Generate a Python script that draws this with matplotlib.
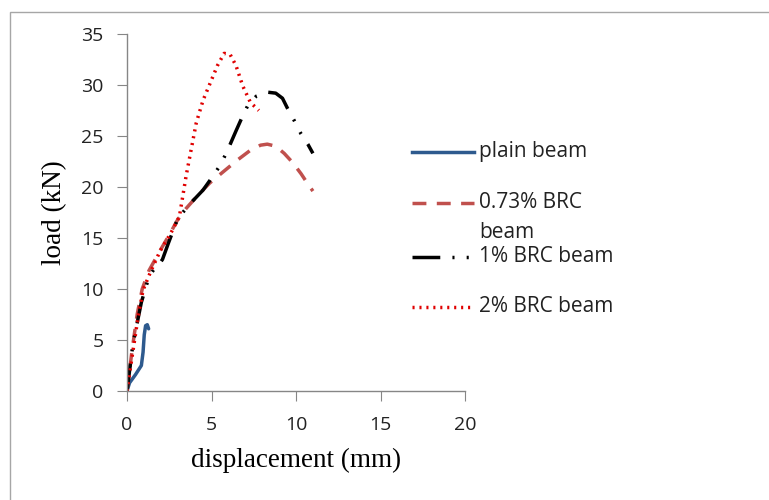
import matplotlib
matplotlib.use("Agg")
import matplotlib.pyplot as plt
from matplotlib.patches import Rectangle
from matplotlib.lines import Line2D

plain_x = [0, 0.15, 0.5, 0.85, 0.95, 1.02, 1.1, 1.2, 1.28]
plain_y = [0, 0.8, 1.6, 2.5, 3.8, 5.5, 6.4, 6.5, 6.1]

brc073_x = [0, 0.3, 0.6, 0.9, 1.3, 1.9, 2.5, 3.0, 3.5, 4.2, 4.9, 5.7, 6.5, 7.3, 7.9, 8.3, 8.8, 9.3, 9.8, 10.3, 10.7, 11.0]
brc073_y = [0, 4.0, 7.5, 10.0, 11.8, 13.6, 15.3, 16.8, 17.9, 19.2, 20.4, 21.5, 22.6, 23.6, 24.1, 24.2, 24.0, 23.3, 22.4, 21.3, 20.3, 19.6]

brc1_x = [0, 0.35, 0.85, 1.3, 1.7, 1.85, 2.1, 2.45, 3.0, 3.7, 4.5, 5.1, 5.5, 5.9, 6.45, 6.8, 7.15, 7.65, 8.3, 8.8, 9.2, 9.5, 9.9, 10.3, 10.7, 11.0]
brc1_y = [0, 4.6, 8.7, 11.2, 12.2, 12.3, 12.9, 14.5, 16.9, 18.3, 19.7, 21.1, 22.1, 23.4, 25.5, 26.8, 28.0, 28.9, 29.3, 29.2, 28.7, 27.7, 26.5, 25.2, 24.2, 23.3]

brc2_x = [0, 0.35, 0.65, 0.95, 1.35, 1.95, 2.6, 3.1, 3.3, 3.5, 3.8, 4.1, 4.5, 4.9, 5.35, 5.75, 6.1, 6.45, 6.85, 7.3, 7.8]
brc2_y = [0, 3.9, 7.2, 9.9, 11.5, 13.7, 15.5, 17.1, 19.1, 21.1, 23.7, 26.3, 28.5, 30.1, 31.9, 33.1, 33.0, 31.9, 29.9, 28.3, 27.5]

series_labels = ["plain beam", "0.73% BRC\nbeam", "1% BRC beam", "2% BRC beam"]
x_ticks = [0, 5, 10, 15, 20]
y_ticks = [0, 5, 10, 15, 20, 25, 30, 35]

DASH_073 = (4, 3)
DASH_1 = (8, 3.5, 0.6, 3.5, 0.6, 3.5)
DASH_2 = (0.6, 1.4)

fig = plt.figure(figsize=(7.69, 5.0), dpi=100)
fig.patches.append(Rectangle((10/769, -0.01), 1.0, 1 - 12/500 + 0.01, transform=fig.transFigure,
                             fill=False, edgecolor="#A6A6A6", linewidth=1.0))
ax = fig.add_axes([127/769, 1 - 391/500, (465 - 127)/769, (391 - 34)/500])

l1, = ax.plot(plain_x, plain_y, color="#2E5A8E", lw=2.5, solid_capstyle="round")
l2, = ax.plot(brc073_x, brc073_y, color="#C0504D", lw=2.5, dashes=DASH_073)
l3, = ax.plot(brc1_x, brc1_y, color="black", lw=2.5, dashes=DASH_1)
l4, = ax.plot(brc2_x, brc2_y, color="#E00000", lw=2.5, dashes=DASH_2)

ax.set_xlim(0, 20)
ax.set_ylim(0, 35)
ax.set_xticks(x_ticks)
ax.set_yticks(y_ticks)
for s in ["top", "right"]:
    ax.spines[s].set_visible(False)
for s in ["left", "bottom"]:
    ax.spines[s].set_color("#868686")
    ax.spines[s].set_linewidth(1.0)
ax.tick_params(axis="both", colors="#868686", labelcolor="#222222", labelsize=14, length=7)
for lab in ax.get_xticklabels() + ax.get_yticklabels():
    lab.set_fontfamily("Open Sans")
ax.tick_params(axis="x", pad=11)
ax.tick_params(axis="y", pad=10)

ax.set_xlabel("displacement (mm)", family="Liberation Serif", fontsize=19.5, labelpad=10)
ax.set_ylabel("load (kN)", family="Liberation Serif", fontsize=19.5, labelpad=10)

handles = [(l1, None), (l2, DASH_073), (l3, DASH_1), (l4, DASH_2)]
ys = [152, 203, 257, 307]
for (h, d), lab, yp in zip(handles, series_labels, ys):
    yf = 1 - yp/500
    ln = Line2D([412/769, 474/769], [yf, yf], transform=fig.transFigure, color=h.get_color(),
                lw=h.get_linewidth())
    if d is not None:
        ln.set_dashes(d)
    fig.add_artist(ln)
    if "\n" in lab:
        first, second = lab.split("\n")
        fig.text(479/769, yf, first, family="Open Sans", fontsize=15, va="center", ha="left", color="#222222")
        fig.text(479/769, 1 - 233/500, second, family="Open Sans", fontsize=15, va="center", ha="left", color="#222222")
    else:
        fig.text(479/769, yf, lab, family="Open Sans", fontsize=15, va="center", ha="left", color="#222222")

fig.savefig("out.png", dpi=100)
